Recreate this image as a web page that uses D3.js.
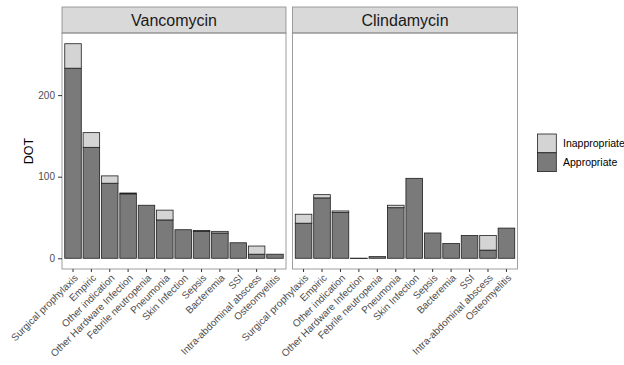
<!DOCTYPE html>
<html>
<head>
<meta charset="utf-8">
<script src="https://cdn.jsdelivr.net/npm/d3@7"></script>
<style>
  body { margin: 0; background: #fff; }
  text { font-family: "Liberation Sans", Arial, sans-serif; }
</style>
</head>
<body>
<script>
// Data
const categories = ['Surgical prophylaxis', 'Empiric', 'Other indication', 'Other Hardware Infection',
    'Febrile neutropenia', 'Pneumonia', 'Skin Infection', 'Sepsis', 'Bacteremia', 'SSI',
    'Intra-abdominal abscess', 'Osteomyelitis'];
const drugs = ['Vancomycin', 'Clindamycin'];
const vancoAppropriate = [233, 136, 92, 79, 65, 47, 35, 33, 31, 19, 5, 5];
const vancoInappropriate = [30, 18, 9, 1, 0, 12, 0, 1, 2, 0, 10, 0];
const clindaAppropriate = [43, 74, 56, 0, 2, 62, 98, 31, 18, 28, 10, 37];
const clindaInappropriate = [11, 4, 2, 0, 0, 3, 0, 0, 0, 0, 18, 0];
const groups = ['Appropriate', 'Inappropriate'];
const yTicks = [0, 100, 200];

const colors = { Appropriate: '#7a7a7a', Inappropriate: '#d4d4d4' };

const width = 624, height = 365;
const svg = d3.select('body').append('svg')
    .attr('width', width)
    .attr('height', height);

const panels = [
    { name: drugs[0], app: vancoAppropriate, inapp: vancoInappropriate, x0: 62, x1: 286 },
    { name: drugs[1], app: clindaAppropriate, inapp: clindaInappropriate, x0: 292.5, x1: 517.5 }
];
const stripTop = 7, panelTop = 33, panelBottom = 269;

// shared y scale with ggplot style 5% expansion
const ymax = d3.max(panels, p => d3.max(p.app.map((v, i) => v + p.inapp[i])));
const pad = ymax * 0.05;
const y = d3.scaleLinear().domain([-pad, ymax + pad]).range([panelBottom, panelTop]);

panels.forEach((p, pi) => {
    const g = svg.append('g');

    const x = d3.scaleBand()
        .domain(categories)
        .range([p.x0, p.x1])
        .paddingInner(0.1)
        .paddingOuter(0.15);

    // strip
    g.append('rect')
        .attr('x', p.x0).attr('y', stripTop)
        .attr('width', p.x1 - p.x0).attr('height', panelTop - stripTop)
        .attr('fill', '#d9d9d9').attr('stroke', '#888').attr('stroke-width', 0.8);
    g.append('text')
        .attr('x', (p.x0 + p.x1) / 2).attr('y', (stripTop + panelTop) / 2 + 0.5)
        .attr('text-anchor', 'middle').attr('dominant-baseline', 'central')
        .attr('font-size', 16).attr('fill', '#1a1a1a')
        .text(p.name);

    // stacked bars (zero-height bars still show their outline, as in ggplot)
    const rows = categories.map((c, i) => ({ cat: c, Appropriate: p.app[i], Inappropriate: p.inapp[i] }));
    const series = d3.stack().keys(groups)(rows);

    g.selectAll('.layer')
        .data(series)
        .enter().append('g')
        .attr('fill', d => colors[d.key])
        .selectAll('rect')
        .data(d => d.filter(s => !(d.key === 'Inappropriate' && s[1] === s[0] && s[0] > 0)))
        .enter().append('rect')
        .attr('x', d => x(d.data.cat))
        .attr('width', x.bandwidth())
        .attr('y', d => y(d[1]))
        .attr('height', d => Math.max(0.01, y(d[0]) - y(d[1])))
        .attr('stroke', '#1e1e1e')
        .attr('stroke-width', 0.8);

    // panel border
    g.append('rect')
        .attr('x', p.x0).attr('y', panelTop)
        .attr('width', p.x1 - p.x0).attr('height', panelBottom - panelTop)
        .attr('fill', 'none').attr('stroke', '#888').attr('stroke-width', 0.8);

    // x axis
    const xAxis = g.append('g')
        .attr('transform', `translate(0,${panelBottom})`)
        .call(d3.axisBottom(x).tickSize(3).tickPadding(2));
    xAxis.select('.domain').remove();
    xAxis.selectAll('.tick line').attr('stroke', '#333');
    xAxis.selectAll('.tick text')
        .attr('font-size', 10)
        .attr('fill', '#4d4d4d')
        .attr('text-anchor', 'end')
        .attr('dy', 0)
        .attr('transform', 'translate(2,6) rotate(-45)');

    // y axis on first panel only
    if (pi === 0) {
        const yAxis = g.append('g')
            .attr('transform', `translate(${p.x0},0)`)
            .call(d3.axisLeft(y).tickValues(yTicks).tickSize(4).tickPadding(3));
        yAxis.select('.domain').remove();
        yAxis.selectAll('.tick line').attr('stroke', '#333');
        yAxis.selectAll('.tick text').attr('font-size', 10).attr('fill', '#4d4d4d');
    }
});

// y axis title
svg.append('text')
    .attr('transform', `translate(33,${(panelTop + panelBottom) / 2}) rotate(-90)`)
    .attr('text-anchor', 'middle')
    .attr('font-size', 12.5)
    .attr('fill', '#000')
    .text('DOT');

// legend
const legendItems = ['Inappropriate', 'Appropriate'];
const legend = svg.append('g').attr('transform', 'translate(537.5,134)');
legend.selectAll('rect')
    .data(legendItems)
    .enter().append('rect')
    .attr('x', 0)
    .attr('y', (d, i) => i * 18.8)
    .attr('width', 18.8)
    .attr('height', 18.8)
    .attr('fill', d => colors[d])
    .attr('stroke', '#1e1e1e')
    .attr('stroke-width', 0.8);
legend.selectAll('text')
    .data(legendItems)
    .enter().append('text')
    .attr('x', 25.5)
    .attr('y', (d, i) => i * 18.8 + 9.4)
    .attr('dominant-baseline', 'central')
    .attr('font-size', 10.5)
    .attr('fill', '#000')
    .text(d => d);
</script>
</body>
</html>
